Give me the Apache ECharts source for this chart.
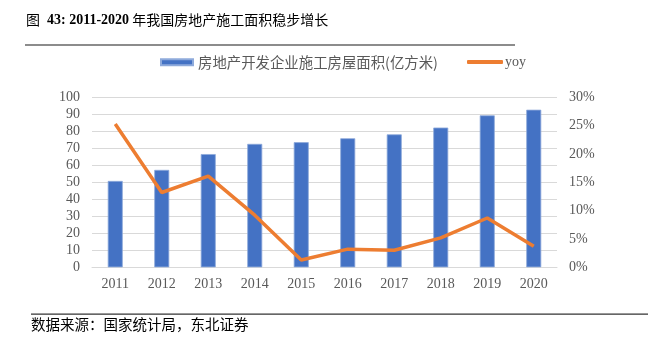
<!DOCTYPE html>
<html>
<head>
<meta charset="utf-8">
<script src="https://cdn.jsdelivr.net/npm/echarts@6/dist/echarts.min.js"></script>
<style>html,body{margin:0;padding:0;background:#fff;}#c{width:659px;height:339px;}</style>
</head>
<body>
<div id="c"></div>
<script>
var years = ['2011','2012','2013','2014','2015','2016','2017','2018','2019','2020'];
var area = [50.8, 57.3, 66.6, 72.6, 73.6, 75.9, 78.2, 82.2, 89.4, 92.7];
var yoy = [25.3, 13.2, 16.1, 9.2, 1.3, 3.2, 3.0, 5.2, 8.7, 3.7];
var barName = '房地产开发企业施工房屋面积(亿方米)';
var lineName = 'yoy';

var serif = '"Liberation Serif","Times New Roman","Noto Sans CJK SC",serif';
var cjk = '"Noto Sans CJK SC",sans-serif';
var chart = echarts.init(document.getElementById('c'));
chart.setOption({
  backgroundColor: '#fff',
  animation: false,
  graphic: [
    {type:'text', left:26, top:13, style:{
      rich:{
        a:{fontFamily:cjk, fontSize:14, fill:'#000'},
        b:{fontFamily:serif, fontSize:14, fontWeight:'bold', fill:'#000'}
      },
      text:'{a|图}{b|  43: 2011-2020}{a| 年我国房地产施工面积稳步增长}'
    }},
    {type:'rect', shape:{x:25, y:44, width:490, height:2}, style:{fill:'#8c8c8c'}},
    {type:'rect', shape:{x:31, y:313.5, width:617, height:1.2}, style:{fill:'#333'}},
    {type:'text', left:31, top:317, style:{text:'数据来源：国家统计局，东北证券', fontFamily:cjk, fontSize:14.5, fill:'#000'}}
  ],
  legend: [
    {data:[{name:barName, icon:'rect'}], left:160, top:55, padding:0, itemWidth:32, itemHeight:6, itemGap:10,
     textStyle:{fontFamily:cjk, fontSize:14.4, color:'#595959'}},
    {data:[{name:lineName, icon:'roundRect'}], left:467, top:55, padding:0, itemWidth:36, itemHeight:4,
     textStyle:{fontFamily:serif, fontSize:14, color:'#595959', padding:[0,0,0,-3]}}
  ],
  grid: {left:92, right:102, top:97.3, bottom:71.7, containLabel:false},
  xAxis: {
    type:'category', data:years,
    axisLine:{lineStyle:{color:'#d9d9d9', width:1}},
    axisTick:{show:false},
    axisLabel:{fontFamily:serif, fontSize:14, color:'#595959', margin:10}
  },
  yAxis: [
    {type:'value', min:0, max:100, interval:10,
     axisLine:{show:false}, axisTick:{show:false},
     splitLine:{lineStyle:{color:'#d9d9d9', width:1}},
     axisLabel:{fontFamily:serif, fontSize:14, color:'#595959', margin:12}},
    {type:'value', min:0, max:30, interval:5,
     axisLine:{show:false}, axisTick:{show:false}, splitLine:{show:false},
     axisLabel:{fontFamily:serif, fontSize:14, color:'#595959', margin:12, formatter:'{value}%'}}
  ],
  series: [
    {name:barName, type:'bar', data:area, barWidth:15, yAxisIndex:0,
     itemStyle:{color:'#4472C4', borderColor:'#8eaadb', borderWidth:0.8}},
    {name:lineName, type:'line', data:yoy, yAxisIndex:1, showSymbol:false, symbol:'none',
     lineStyle:{color:'#ED7D31', width:3.5}, itemStyle:{color:'#ED7D31'}}
  ]
});
</script>
</body>
</html>
